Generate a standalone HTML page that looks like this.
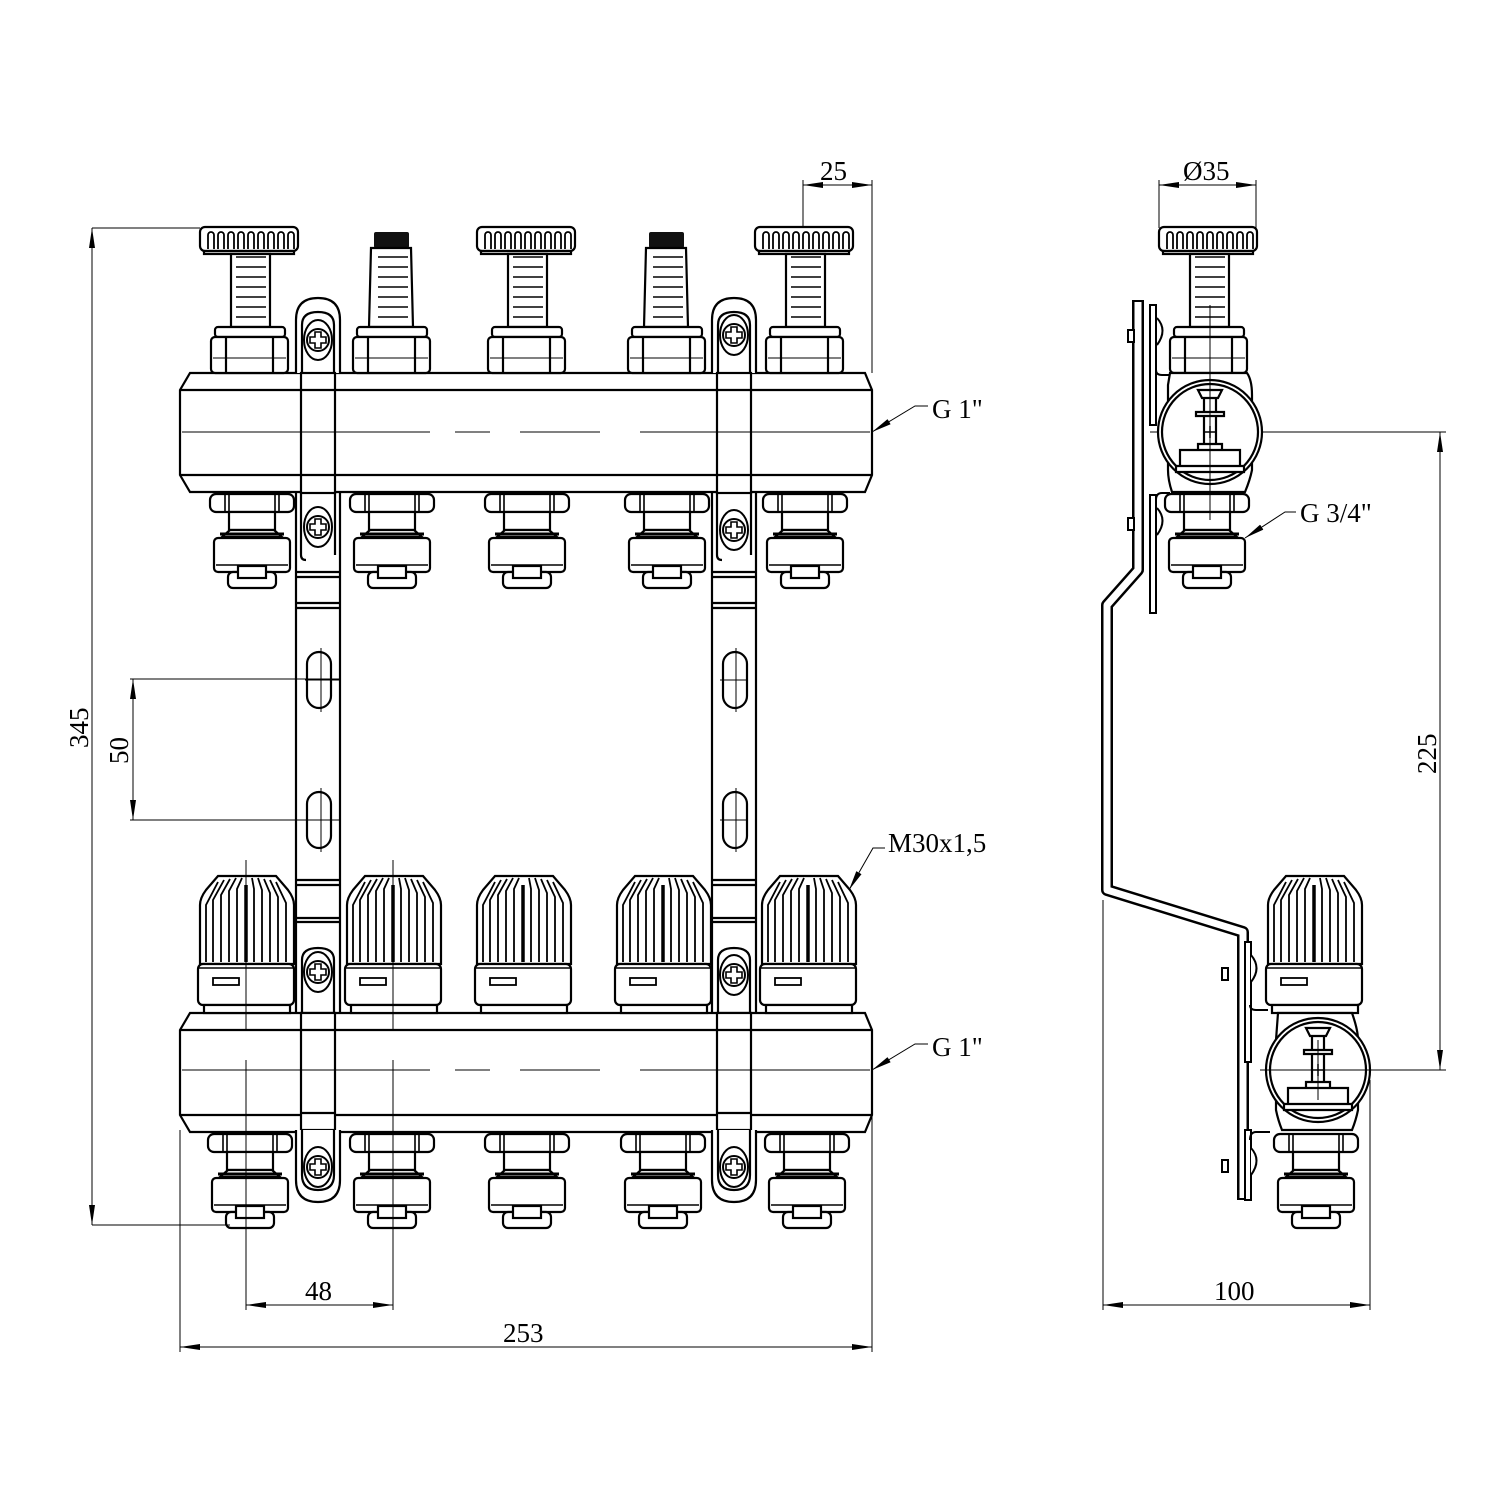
<!DOCTYPE html>
<html><head><meta charset="utf-8"><style>html,body{margin:0;padding:0;background:#fff}svg{display:block}</style></head><body>
<svg xmlns="http://www.w3.org/2000/svg" xmlns:xlink="http://www.w3.org/1999/xlink" width="1500" height="1500" viewBox="0 0 1500 1500" font-family="Liberation Serif, serif">
<defs>
<marker id="ar" viewBox="0 0 20 8" refX="20" refY="4" markerWidth="20" markerHeight="8" markerUnits="userSpaceOnUse" orient="auto-start-reverse"><path d="M0,1 L20,4 L0,7 z" fill="#000"/></marker>
<g id="wheel" fill="none" stroke="#000" stroke-width="2.2">
 <rect x="-48" y="227" width="98" height="24" rx="5"/>
 <rect x="-44" y="251" width="90" height="3" />
 <g stroke-width="1.8">
  <path d="M-40,249v-14a3,3 0 0 1 6,0v14 M-30,249v-14a3,3 0 0 1 6,0v14 M-20,249v-14a3,3 0 0 1 6,0v14 M-10,249v-14a3,3 0 0 1 6,0v14 M0,249v-14a3,3 0 0 1 6,0v14 M10,249v-14a3,3 0 0 1 6,0v14 M20,249v-14a3,3 0 0 1 6,0v14 M30,249v-14a3,3 0 0 1 6,0v14 M40,249v-14a3,3 0 0 1 6,0v14"/>
 </g>
</g>
<g id="scale" stroke="#000" stroke-width="1.6">
 <path d="M-12,257h30 M-12,267h30 M-12,277h30 M-12,287h30 M-12,297h30 M-12,307h30 M-12,317h30"/>
</g>
<g id="collar" fill="#fff" stroke="#000" stroke-width="2.2">
 <rect x="-33" y="327" width="70" height="10" rx="3"/>
 <rect x="-37" y="337" width="77" height="36" rx="4"/>
 <path d="M-22,337v36 M25,337v36" />
 <path d="M-35,358h73" stroke-width="1"/>
</g>
<g id="flowA">
 <use xlink:href="#wheel"/>
 <rect x="-17" y="254" width="39" height="73" fill="#fff" stroke="#000" stroke-width="2.2"/>
 <use xlink:href="#scale"/>
 <use xlink:href="#collar"/>
</g>
<g id="flowB">
 <rect x="-16" y="232" width="35" height="16" rx="2" fill="#111"/>
 <path d="M-19,248 H21 L23,327 H-21 Z" fill="#fff" stroke="#000" stroke-width="2.2"/>
 <use xlink:href="#scale"/>
 <use xlink:href="#collar"/>
</g>
<g id="outlet" fill="#fff" stroke="#000" stroke-width="2.2">
 <rect x="-40" y="494" width="84" height="18" rx="6"/>
 <path d="M-25,494v18 M-21,494v18 M25,494v18 M29,494v18" stroke-width="1.6"/>
 <rect x="-21" y="512" width="46" height="18"/>
 <path d="M-28,537 L-20,530 H24 L32,537 Z"/>
 <path d="M-30,534h64" stroke-width="3"/>
 <rect x="-36" y="538" width="76" height="34" rx="4"/>
 <path d="M-34,565h72" stroke-width="1.4"/>
 <rect x="-22" y="572" width="48" height="16" rx="5"/>
 <rect x="-12" y="566" width="28" height="12"/>
</g>
<g id="cap" fill="#fff" stroke="#000" stroke-width="2.2">
 <path d="M-46,964 V905 Q-46,898 -40,890 L-28,876 H30 L42,890 Q48,898 48,905 V964 Z"/>
 <g stroke-width="1.8" fill="none">
  <path d="M-40,962V905 L-28,882 M-33,962V900 L-22,880 M-25,962V895 L-16,879 M-17,962V891 L-10,878 M-9,962V889 L-4,878 M8,962V889 L6,878 M16,962V890 L12,878 M24,962V893 L18,879 M32,962V897 L24,880 M40,962V903 L30,882"/>
  <path d="M0,962V885" stroke-width="3.5"/>
 </g>
 <rect x="-48" y="964" width="96" height="41" rx="5"/>
 <path d="M-48,968h96" stroke-width="1.4"/>
 <rect x="-33" y="978" width="26" height="7" stroke-width="1.8"/>
 <rect x="-42" y="1005" width="86" height="8"/>
</g>
<g id="screw" fill="#fff" stroke="#000" stroke-width="2">
 <ellipse cx="0" cy="0" rx="14" ry="20"/>
 <circle cx="0" cy="0" r="11"/>
 <path d="M-3,-8h6v5h5v6h-5v5h-6v-5h-5v-6h5z" stroke-width="1.6"/>
</g>
<g id="strip" fill="none" stroke="#000" stroke-width="2.2">
 <path d="M-22,373 V320 Q-22,298 0,298 Q22,298 22,320 V373" fill="#fff"/>
 <path d="M-16,373 V325 Q-16,312 0,312 Q16,312 16,325 V373" />
 <rect x="-17" y="373" width="34" height="120" fill="#fff"/>
 <path d="M-17,390h34 M-17,475h34"/>
 <path d="M-22,493 V1013 M22,493 V1013" />
 <path d="M-17,493 V555 Q-17,560 -12,560 M17,493 V555" />
 <path d="M-22,572h44 M-22,577h44 M-22,603h44 M-22,608h44"/>
 <rect x="-11" y="652" width="24" height="56" rx="12"/>
 <rect x="-11" y="792" width="24" height="56" rx="12"/>
 <path d="M-22,880h44 M-22,885h44 M-22,918h44 M-22,922h44"/>
 <path d="M-16,1013 V960 Q-16,948 0,948 Q16,948 16,960 V1013"/>
 <rect x="-17" y="1013" width="34" height="117" fill="#fff"/>
 <path d="M-17,1030h34 M-17,1113h34"/>
 <path d="M-22,1130 V1180 Q-22,1202 0,1202 Q22,1202 22,1180 V1130" fill="#fff"/>
 <path d="M-16,1130 V1175 Q-16,1190 0,1190 Q16,1190 16,1175 V1130"/>
</g>
<g id="bar" fill="#fff" stroke="#000" stroke-width="2.2">
 <path d="M190,0 H865 L872,17 V102 L865,119 H190 L180,102 V17 Z"/>
 <path d="M180,17H872 M180,102H872"/>
</g>
</defs>

<use xlink:href="#bar" transform="translate(0,373)"/>
<use xlink:href="#bar" transform="translate(0,1013)"/>

<use xlink:href="#flowA" x="248"/>
<use xlink:href="#flowB" x="390"/>
<use xlink:href="#flowA" x="525"/>
<use xlink:href="#flowB" x="665"/>
<use xlink:href="#flowA" x="803"/>
<use xlink:href="#outlet" x="250"/>
<use xlink:href="#outlet" x="390"/>
<use xlink:href="#outlet" x="525"/>
<use xlink:href="#outlet" x="665"/>
<use xlink:href="#outlet" x="803"/>
<use xlink:href="#cap" x="246"/>
<use xlink:href="#cap" x="393"/>
<use xlink:href="#cap" x="523"/>
<use xlink:href="#cap" x="663"/>
<use xlink:href="#cap" x="808"/>
<use xlink:href="#outlet" x="248" y="640"/>
<use xlink:href="#outlet" x="390" y="640"/>
<use xlink:href="#outlet" x="525" y="640"/>
<use xlink:href="#outlet" x="661" y="640"/>
<use xlink:href="#outlet" x="805" y="640"/>

<use xlink:href="#strip" x="318"/>
<use xlink:href="#strip" x="734"/>
<use xlink:href="#screw" x="318" y="340"/>
<use xlink:href="#screw" x="318" y="527"/>
<use xlink:href="#screw" x="318" y="972"/>
<use xlink:href="#screw" x="318" y="1167"/>
<use xlink:href="#screw" x="734" y="335"/>
<use xlink:href="#screw" x="734" y="530"/>
<use xlink:href="#screw" x="734" y="975"/>
<use xlink:href="#screw" x="734" y="1167"/>

<g stroke="#000" stroke-width="1" fill="none">
 <path d="M182,432 H430 M455,432 H490 M520,432 H600 M640,432 H870"/>
 <path d="M182,1070 H430 M455,1070 H490 M520,1070 H600 M640,1070 H870"/>
 <path d="M246,860 V1030 M246,1060 V1250 M393,860 V1030 M393,1060 V1310"/>
 <path d="M305,680 H340 M305,820 H340 M720,680 H748 M720,820 H748 M321,648 V712 M321,788 V852 M736,648 V712 M736,788 V852"/>
</g>

<g stroke="#000" stroke-width="1" fill="none">
 <path d="M92,228 H200 M92,1225 H230"/>
 <path d="M92,228 V1225" marker-start="url(#ar)" marker-end="url(#ar)"/>
 <path d="M130,679 H340 M130,820 H340"/>
 <path d="M133,679 V820" marker-start="url(#ar)" marker-end="url(#ar)"/>
 <path d="M246,1225 V1310 M393,1230 V1310"/>
 <path d="M246,1305 H393" marker-start="url(#ar)" marker-end="url(#ar)"/>
 <path d="M180,1130 V1352 M872,1070 V1352"/>
 <path d="M180,1347 H872" marker-start="url(#ar)" marker-end="url(#ar)"/>
 <path d="M803,180 V228 M872,180 V373"/>
 <path d="M803,185 H872" marker-start="url(#ar)" marker-end="url(#ar)"/>
 <path d="M872,432 L915,406 H928" marker-start="url(#ar)"/>
 <path d="M872,1070 L915,1044 H928" marker-start="url(#ar)"/>
 <path d="M849,890 L873,848 H885" marker-start="url(#ar)"/>
 <path d="M1159,180 V228 M1256,180 V228"/>
 <path d="M1159,185 H1256" marker-start="url(#ar)" marker-end="url(#ar)"/>
 <path d="M1150,432 H1446 M1290,1070 H1446"/>
 <path d="M1440,432 V1070" marker-start="url(#ar)" marker-end="url(#ar)"/>
 <path d="M1103,900 V1310 M1370,1080 V1310"/>
 <path d="M1103,1305 H1370" marker-start="url(#ar)" marker-end="url(#ar)"/>
 <path d="M1245,538 L1285,512 H1296" marker-start="url(#ar)"/>
</g>
<g font-size="27" fill="#000">
 <text x="932" y="418">G 1"</text>
 <text x="932" y="1056">G 1"</text>
 <text x="888" y="852">M30x1,5</text>
 <text x="1300" y="522">G 3/4"</text>
 <text x="820" y="180">25</text>
 <text x="1183" y="180">Ø35</text>
 <text x="305" y="1300">48</text>
 <text x="503" y="1342">253</text>
 <text x="1214" y="1300">100</text>
 <text transform="translate(88,748) rotate(-90)">345</text>
 <text transform="translate(128,764) rotate(-90)">50</text>
 <text transform="translate(1436,774) rotate(-90)">225</text>
</g>

<g fill="none" stroke="#000">
 <path d="M1138,300 V570 L1107,605 V890 L1243,932 V1200" stroke-width="12" stroke-linejoin="round"/>
 <path d="M1138,302 V570 L1107,605 V890 L1243,932 V1198" stroke="#fff" stroke-width="7" stroke-linejoin="round"/>
</g>
<g fill="#fff" stroke="#000" stroke-width="2">
 <rect x="1150" y="305" width="6" height="120"/>
 <rect x="1150" y="495" width="6" height="118"/>
 <rect x="1128" y="330" width="6" height="12"/><rect x="1128" y="518" width="6" height="12"/>
 <path d="M1157,318 Q1168,330 1157,345" /><path d="M1157,508 Q1168,520 1157,535"/>
 <path d="M1156,370 Q1156,375 1162,375 H1170 M1156,500 Q1156,493 1162,493 H1170" fill="none"/>
 <rect x="1245" y="942" width="6" height="120"/>
 <rect x="1245" y="1130" width="6" height="70"/>
 <rect x="1222" y="968" width="6" height="12"/><rect x="1222" y="1160" width="6" height="12"/>
 <path d="M1251,955 Q1262,968 1251,982"/><path d="M1251,1148 Q1262,1160 1251,1175"/>
 <path d="M1250,1005 Q1250,1010 1256,1010 H1268 M1250,1140 Q1250,1132 1256,1132 H1270" fill="none"/>
</g>
<use xlink:href="#flowA" x="1207"/>
<g fill="#fff" stroke="#000" stroke-width="2.2">
 <path d="M1170,373 H1247 Q1252,380 1252,395 V470 Q1250,480 1245,492 H1172 Q1168,480 1168,470 V385 Z"/>
 <circle cx="1210" cy="432" r="52"/>
 <circle cx="1210" cy="432" r="48"/>
 <path d="M1198,390 H1222 L1218,398 H1202 Z M1204,398 H1216 V412 H1204 Z M1196,412 H1224 V416 H1196 Z M1204,416 H1216 V444 H1204 Z M1198,444 H1222 V450 H1198 Z M1180,450 H1240 V466 H1180 Z M1176,466 H1244 V472 H1176 Z"/>
</g>
<use xlink:href="#outlet" x="1205"/>
<use xlink:href="#cap" x="1314"/>
<g fill="#fff" stroke="#000" stroke-width="2.2">
 <path d="M1278,1013 H1352 Q1358,1030 1358,1040 V1110 Q1356,1120 1352,1130 H1282 Q1278,1120 1276,1110 V1040 Z"/>
 <circle cx="1318" cy="1070" r="52"/>
 <circle cx="1318" cy="1070" r="48"/>
 <path d="M1306,1028 H1330 L1326,1036 H1310 Z M1312,1036 H1324 V1050 H1312 Z M1304,1050 H1332 V1054 H1304 Z M1312,1054 H1324 V1082 H1312 Z M1306,1082 H1330 V1088 H1306 Z M1288,1088 H1348 V1104 H1288 Z M1284,1104 H1352 V1110 H1284 Z"/>
</g>
<use xlink:href="#outlet" x="1314" y="640"/>
<g stroke="#000" stroke-width="1" fill="none">
 <path d="M1210,305 V520 M1318,1040 V1100 M1260,1070 H1380"/>
 <path d="M1204,432h12 M1210,426v12 M1312,1070h12 M1318,1064v12" stroke-width="1.5"/>
</g>
</svg>
</body></html>
